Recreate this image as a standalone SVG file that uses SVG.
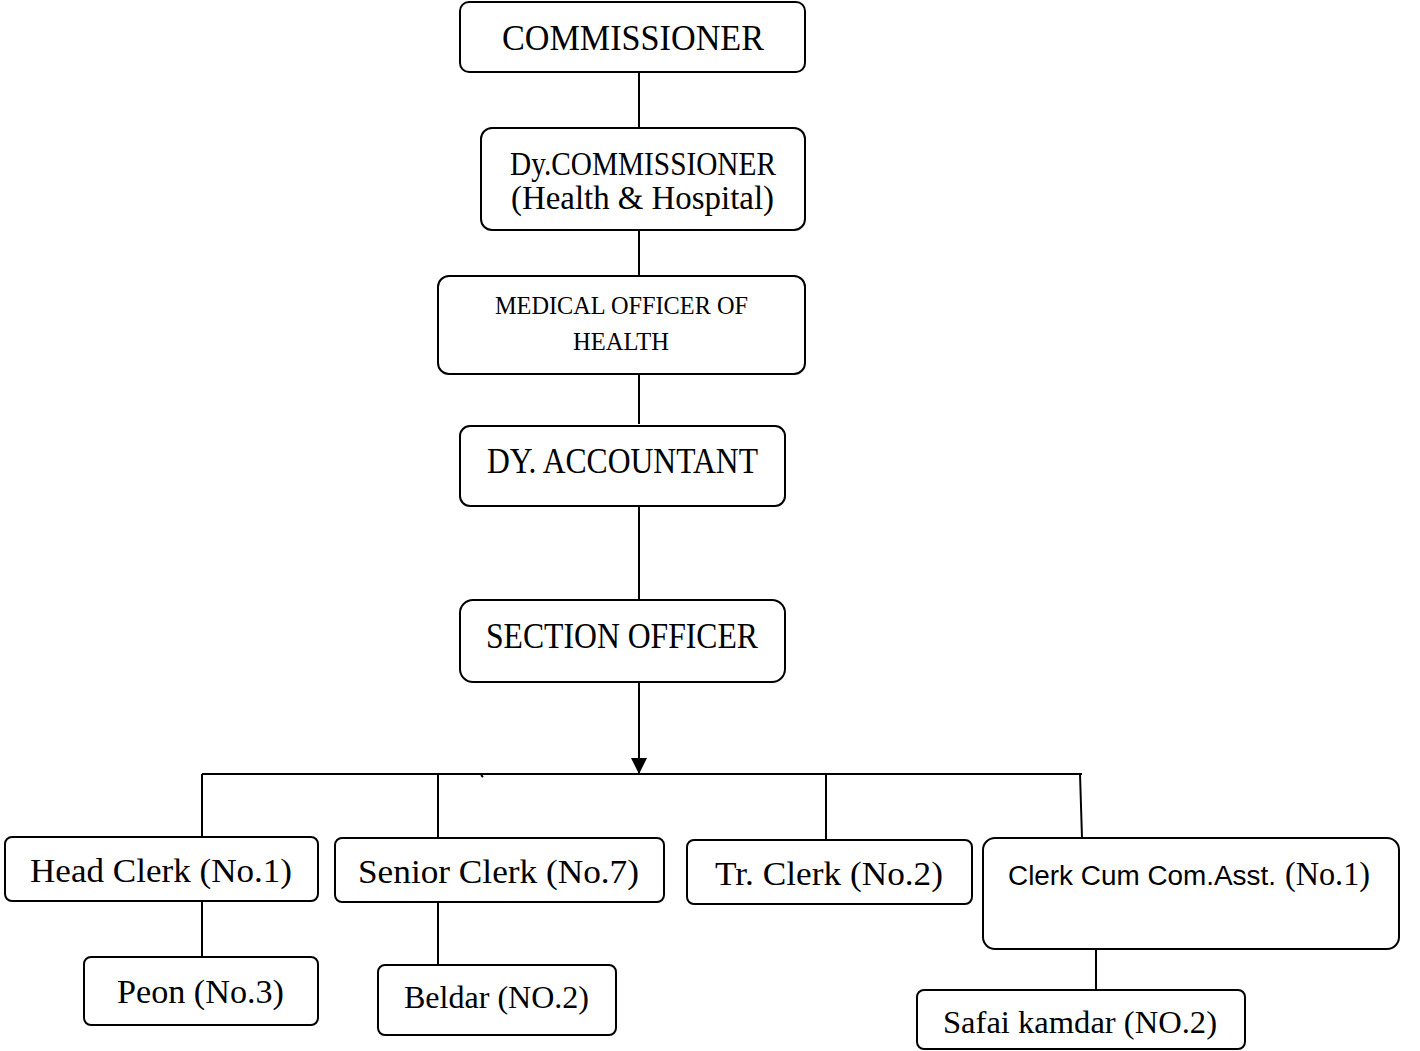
<svg xmlns="http://www.w3.org/2000/svg" width="1420" height="1051" viewBox="0 0 1420 1051">
<style>
.box{fill:#fff;stroke:#000;stroke-width:2}
.ln{stroke:#000;stroke-width:2;fill:none}
.t{font-family:"Liberation Serif","DejaVu Serif",serif;fill:#000;text-anchor:start}
.s{font-family:"Liberation Sans","DejaVu Sans",sans-serif;fill:#000}
</style>
<defs>
<marker id="arr" viewBox="0 0 16 16" refX="16" refY="8" markerWidth="16" markerHeight="16" markerUnits="userSpaceOnUse" orient="auto">
<path d="M0,0 L16,8 L0,16 Z" fill="#000"/>
</marker>
</defs>
<rect width="1420" height="1051" fill="#fff"/>
<g id="connectors">
<line class="ln" x1="639" y1="72" x2="639" y2="128"/>
<line class="ln" x1="639" y1="230" x2="639" y2="276"/>
<line class="ln" x1="639" y1="374" x2="639" y2="424"/>
<line class="ln" x1="639" y1="507" x2="639" y2="600"/>
<line class="ln" x1="639" y1="682" x2="639" y2="774" marker-end="url(#arr)"/>
<line class="ln" x1="202" y1="774" x2="1082" y2="774"/>
<line class="ln" x1="481" y1="775" x2="483" y2="777" stroke-width="1.5"/>
<line class="ln" x1="202" y1="774" x2="202" y2="837"/>
<line class="ln" x1="438" y1="774" x2="438" y2="838"/>
<line class="ln" x1="826" y1="774" x2="826" y2="840"/>
<line class="ln" x1="1080" y1="774" x2="1082" y2="838"/>
<line class="ln" x1="202" y1="901" x2="202" y2="957"/>
<line class="ln" x1="438" y1="902" x2="438" y2="965"/>
<line class="ln" x1="1096" y1="949" x2="1096" y2="990"/>
</g>
<g id="commissioner">
<rect class="box" x="460" y="2" width="345" height="70" rx="9"/>
<text class="t" x="502" y="50" font-size="36" textLength="262" lengthAdjust="spacingAndGlyphs">COMMISSIONER</text>
</g>
<g id="dy-commissioner">
<rect class="box" x="481" y="128" width="324" height="102" rx="11"/>
<text class="t" x="510" y="175" font-size="34" textLength="266" lengthAdjust="spacingAndGlyphs">Dy.COMMISSIONER</text>
<text class="t" x="511" y="209" font-size="34" textLength="263" lengthAdjust="spacingAndGlyphs">(Health &amp; Hospital)</text>
</g>
<g id="medical-officer">
<rect class="box" x="438" y="276" width="367" height="98" rx="11"/>
<text class="t" x="495" y="314" font-size="26" textLength="253" lengthAdjust="spacingAndGlyphs">MEDICAL OFFICER OF</text>
<text class="t" x="573" y="350" font-size="26" textLength="96" lengthAdjust="spacingAndGlyphs">HEALTH</text>
</g>
<g id="dy-accountant">
<rect class="box" x="460" y="426" width="325" height="80" rx="10"/>
<text class="t" x="487" y="473" font-size="35" textLength="271" lengthAdjust="spacingAndGlyphs">DY. ACCOUNTANT</text>
</g>
<g id="section-officer">
<rect class="box" x="460" y="600" width="325" height="82" rx="13"/>
<text class="t" x="486" y="648" font-size="35" textLength="272" lengthAdjust="spacingAndGlyphs">SECTION OFFICER</text>
</g>
<g id="head-clerk">
<rect class="box" x="5" y="837" width="313" height="64" rx="7"/>
<text class="t" x="30" y="882" font-size="34" textLength="262" lengthAdjust="spacingAndGlyphs">Head Clerk (No.1)</text>
</g>
<g id="peon">
<rect class="box" x="84" y="957" width="234" height="68" rx="7"/>
<text class="t" x="117" y="1003" font-size="34" textLength="167" lengthAdjust="spacingAndGlyphs">Peon (No.3)</text>
</g>
<g id="senior-clerk">
<rect class="box" x="335" y="838" width="329" height="64" rx="7"/>
<text class="t" x="358" y="883" font-size="34" textLength="281" lengthAdjust="spacingAndGlyphs">Senior Clerk (No.7)</text>
</g>
<g id="beldar">
<rect class="box" x="378" y="965" width="238" height="70" rx="7"/>
<text class="t" x="404" y="1008" font-size="31" textLength="185" lengthAdjust="spacingAndGlyphs">Beldar (NO.2)</text>
</g>
<g id="tr-clerk">
<rect class="box" x="687" y="840" width="285" height="64" rx="7"/>
<text class="t" x="715" y="885" font-size="34" textLength="228" lengthAdjust="spacingAndGlyphs">Tr. Clerk (No.2)</text>
</g>
<g id="clerk-cum">
<rect class="box" x="983" y="838" width="416" height="111" rx="12"/>
<text class="s" x="1008" y="885" font-size="27" textLength="268" lengthAdjust="spacingAndGlyphs">Clerk Cum Com.Asst.</text>
<text class="t" x="1285" y="885" font-size="33" textLength="85" lengthAdjust="spacingAndGlyphs">(No.1)</text>
</g>
<g id="safai-kamdar">
<rect class="box" x="917" y="990" width="328" height="59" rx="7"/>
<text class="t" x="943" y="1033" font-size="31" textLength="274" lengthAdjust="spacingAndGlyphs">Safai kamdar (NO.2)</text>
</g>
</svg>
